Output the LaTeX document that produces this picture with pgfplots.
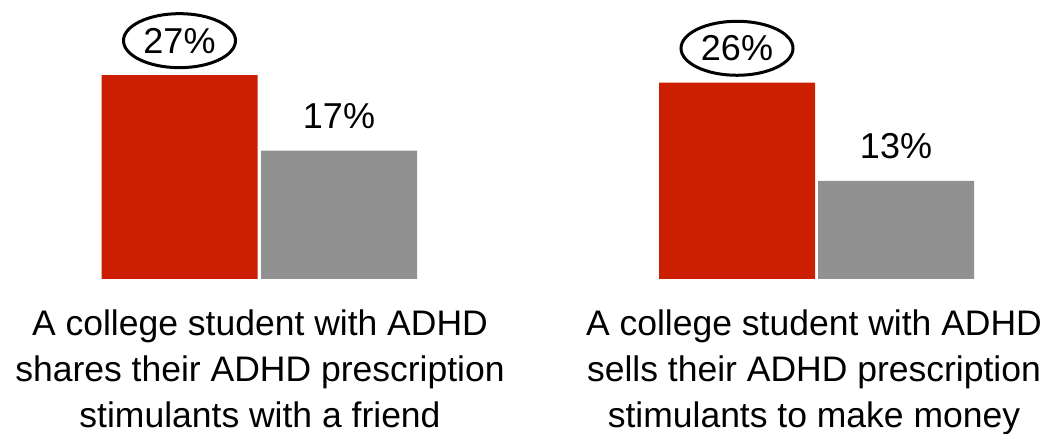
\documentclass[border=0pt]{standalone}
\usepackage{pgfplots}
\pgfplotsset{compat=1.18}
\usepackage{fontspec}
\setmainfont{Liberation Sans}
\usetikzlibrary{shapes.geometric}
\definecolor{barred}{RGB}{204,30,0}
\definecolor{bargray}{RGB}{145,145,145}
\begin{document}
\begin{tikzpicture}
\begin{axis}[
  x=1bp, y=7.55bp,
  xmin=0, xmax=1051, ymin=0, ymax=36.95,
  axis line style={draw=none},
  ytick=\empty,
  xtick={260,814},
  major tick length=0pt,
  xticklabels={{A college student with ADHD\\shares their ADHD prescription\\stimulants with a friend},{A college student with ADHD\\sells their ADHD prescription\\stimulants to make money}},
  xticklabel style={align=center, font=\fontsize{35.5bp}{46bp}\selectfont, inner sep=0pt, anchor=north, yshift=-31bp},
  ybar, bar width=156, bar shift=0pt,
  clip=false,
  /pgf/number format/assume math mode=true,
  nodes near coords={\pgfmathprintnumber{\pgfplotspointmeta}\%},
  nodes near coords style={font=\fontsize{36bp}{36bp}\selectfont, anchor=base, inner sep=0pt, yshift=22bp},
]
% share/sell rates, red series circled
\addplot[fill=barred, draw=none,
  every node near coord/.append style={draw=black, ellipse, line width=3bp, minimum width=112bp, minimum height=54bp}]
  coordinates {(179.5,27) (737,26)};
\addplot[fill=bargray, draw=none] coordinates {(339,17) (896,13)};
\coordinate (bl) at (axis cs:0,-20.53);
\coordinate (tr) at (axis cs:1051,36.95);
\end{axis}
\pgfresetboundingbox
\path (bl) rectangle (tr);
\end{tikzpicture}
\end{document}
